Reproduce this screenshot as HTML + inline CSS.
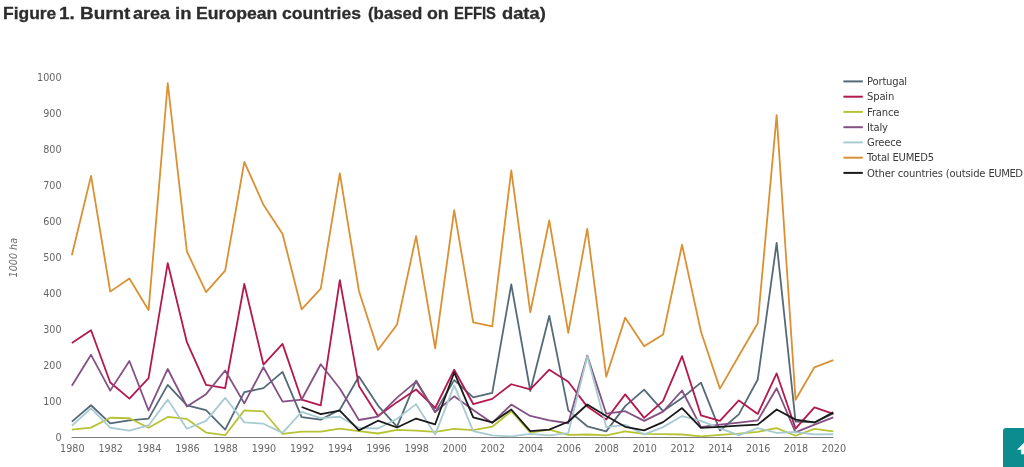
<!DOCTYPE html>
<html><head><meta charset="utf-8"><title>Figure 1</title>
<style>
html,body{margin:0;padding:0;background:#fff;}
body{width:1024px;height:467px;overflow:hidden;position:relative;font-family:"Liberation Sans",sans-serif;}
.title{position:absolute;left:0;top:0;height:30px;width:1024px;font-weight:bold;font-size:17px;color:#2d2d2d;}
.title span{position:absolute;top:3px;line-height:21px;white-space:nowrap;display:inline-block;transform-origin:0 0;-webkit-text-stroke:0.3px #2d2d2d}
.ax{font-family:"DejaVu Sans","Liberation Sans",sans-serif;font-size:9.6px;fill:#666}
.lg{font-family:"DejaVu Sans","Liberation Sans",sans-serif;font-size:10px;fill:#3a3a3a;letter-spacing:-0.2px}
.top{position:absolute;left:1003px;top:428px;width:40px;height:50px;background:#0d8c90;border-top-left-radius:3px}
</style></head><body>
<div class="title"><span style="left:3.05px;transform:scaleX(1.0257)">Figure</span> <span style="left:59.14px;transform:scaleX(1.1101)">1.</span> <span style="left:79.59px;transform:scaleX(1.112)">Burnt</span> <span style="left:133.03px;transform:scaleX(1.0583)">area</span> <span style="left:175.38px;transform:scaleX(1.088)">in</span> <span style="left:195.94px;transform:scaleX(1.0373)">European</span> <span style="left:282.12px;transform:scaleX(1.0327)">countries</span> <span style="left:368.13px;transform:scaleX(0.9897)">(based</span> <span style="left:427.32px;transform:scaleX(1.0462)">on</span> <span style="left:453.86px;transform:scaleX(0.8715)">EFFIS</span> <span style="left:502.0px;transform:scaleX(1.0769)">data)</span></div>
<svg width="1024" height="467" viewBox="0 0 1024 467" style="position:absolute;left:0;top:0">
<defs><clipPath id="lgclip"><rect x="860" y="160" width="163" height="24"/></clipPath></defs>
<path d="M71.65 437.5 L833.32 437.5" stroke="#7a7a7a" stroke-width="1.2" fill="none"/>
<text x="61.5" y="440.8" text-anchor="end" class="ax">0</text>
<text x="61.5" y="404.8" text-anchor="end" class="ax">100</text>
<text x="61.5" y="368.8" text-anchor="end" class="ax">200</text>
<text x="61.5" y="332.8" text-anchor="end" class="ax">300</text>
<text x="61.5" y="296.8" text-anchor="end" class="ax">400</text>
<text x="61.5" y="260.8" text-anchor="end" class="ax">500</text>
<text x="61.5" y="224.8" text-anchor="end" class="ax">600</text>
<text x="61.5" y="188.8" text-anchor="end" class="ax">700</text>
<text x="61.5" y="152.8" text-anchor="end" class="ax">800</text>
<text x="61.5" y="116.8" text-anchor="end" class="ax">900</text>
<text x="61.5" y="80.8" text-anchor="end" class="ax">1000</text>
<text x="72.3" y="452" text-anchor="middle" class="ax">1980</text>
<text x="110.7" y="452" text-anchor="middle" class="ax">1982</text>
<text x="149.1" y="452" text-anchor="middle" class="ax">1984</text>
<text x="187.4" y="452" text-anchor="middle" class="ax">1986</text>
<text x="225.7" y="452" text-anchor="middle" class="ax">1988</text>
<text x="263.9" y="452" text-anchor="middle" class="ax">1990</text>
<text x="302.1" y="452" text-anchor="middle" class="ax">1992</text>
<text x="340.3" y="452" text-anchor="middle" class="ax">1994</text>
<text x="378.5" y="452" text-anchor="middle" class="ax">1996</text>
<text x="416.6" y="452" text-anchor="middle" class="ax">1998</text>
<text x="454.7" y="452" text-anchor="middle" class="ax">2000</text>
<text x="492.8" y="452" text-anchor="middle" class="ax">2002</text>
<text x="530.8" y="452" text-anchor="middle" class="ax">2004</text>
<text x="568.8" y="452" text-anchor="middle" class="ax">2006</text>
<text x="606.7" y="452" text-anchor="middle" class="ax">2008</text>
<text x="644.7" y="452" text-anchor="middle" class="ax">2010</text>
<text x="682.6" y="452" text-anchor="middle" class="ax">2012</text>
<text x="720.4" y="452" text-anchor="middle" class="ax">2014</text>
<text x="758.2" y="452" text-anchor="middle" class="ax">2016</text>
<text x="796.0" y="452" text-anchor="middle" class="ax">2018</text>
<text x="833.8" y="452" text-anchor="middle" class="ax">2020</text>
<text transform="translate(17.2 257.7) rotate(-90)" text-anchor="middle" class="ax" style="font-style:italic">1000 ha</text>
<path d="M71.85 421.65 L91.04 405.27 L110.23 423.34 L129.41 420.39 L148.58 418.63 L167.74 384.93 L186.89 405.38 L206.04 410.13 L225.18 429.54 L244.31 392.17 L263.43 388.17 L282.54 371.90 L301.65 417.08 L320.74 419.60 L339.83 409.77 L358.91 376.54 L377.99 405.60 L397.05 426.62 L416.11 380.58 L435.16 412.18 L454.20 380.14 L473.23 397.32 L492.25 392.82 L511.27 284.35 L530.28 390.98 L549.28 315.81 L568.27 410.42 L587.26 426.26 L606.23 431.41 L625.20 406.14 L644.16 389.68 L663.11 411.03 L682.06 397.93 L700.99 382.59 L719.92 430.44 L738.84 414.42 L757.75 379.46 L776.65 242.98 L795.55 421.54 L814.44 422.44 L833.32 413.41" stroke="#546a79" stroke-width="1.8" fill="none" stroke-linejoin="round" stroke-linecap="butt"/>
<path d="M71.85 342.92 L91.04 330.21 L110.23 382.56 L129.41 398.68 L148.58 378.16 L167.74 263.18 L186.89 342.24 L206.04 384.79 L225.18 388.03 L244.31 283.99 L263.43 364.52 L282.54 343.89 L301.65 399.69 L320.74 405.45 L339.83 280.06 L358.91 385.94 L377.99 416.07 L397.05 402.14 L416.11 389.50 L435.16 408.01 L454.20 369.70 L473.23 404.01 L492.25 398.90 L511.27 384.25 L530.28 389.29 L549.28 369.67 L568.27 381.69 L587.26 406.60 L606.23 419.49 L625.20 394.36 L644.16 417.87 L663.11 400.81 L682.06 356.20 L700.99 415.39 L719.92 420.79 L738.84 400.45 L757.75 413.91 L776.65 373.45 L795.55 428.53 L814.44 407.36 L833.32 413.88" stroke="#b3184f" stroke-width="1.8" fill="none" stroke-linejoin="round" stroke-linecap="butt"/>
<path d="M71.85 429.61 L91.04 427.63 L110.23 417.76 L129.41 418.27 L148.58 427.81 L167.74 416.94 L186.89 418.92 L206.04 432.52 L225.18 435.19 L244.31 410.38 L263.43 411.46 L282.54 433.96 L301.65 431.62 L320.74 431.59 L339.83 428.60 L358.91 431.08 L377.99 433.50 L397.05 429.82 L416.11 430.65 L435.16 431.88 L454.20 428.92 L473.23 430.18 L492.25 426.73 L511.27 411.21 L530.28 432.67 L549.28 429.64 L568.27 434.79 L587.26 434.50 L606.23 435.44 L625.20 431.48 L644.16 433.89 L663.11 434.22 L682.06 434.50 L700.99 436.30 L719.92 434.90 L738.84 433.57 L757.75 431.80 L776.65 428.10 L795.55 435.76 L814.44 428.96 L833.32 431.48" stroke="#b7c235" stroke-width="1.8" fill="none" stroke-linejoin="round" stroke-linecap="butt"/>
<path d="M71.85 385.80 L91.04 354.84 L110.23 390.62 L129.41 361.03 L148.58 410.49 L167.74 368.98 L186.89 406.50 L206.04 394.15 L225.18 370.50 L244.31 403.33 L263.43 367.29 L282.54 401.64 L301.65 399.55 L320.74 364.27 L339.83 388.53 L358.91 420.00 L377.99 416.72 L397.05 397.57 L416.11 381.58 L435.16 412.00 L454.20 396.34 L473.23 410.10 L492.25 422.91 L511.27 404.55 L530.28 415.93 L549.28 420.46 L568.27 423.24 L587.26 355.63 L606.23 413.73 L625.20 411.18 L644.16 420.86 L663.11 411.68 L682.06 390.51 L700.99 427.12 L719.92 424.60 L738.84 422.66 L757.75 420.36 L776.65 388.24 L795.55 432.34 L814.44 424.64 L833.32 417.44" stroke="#855084" stroke-width="1.8" fill="none" stroke-linejoin="round" stroke-linecap="butt"/>
<path d="M71.85 425.72 L91.04 408.30 L110.23 427.74 L129.41 430.54 L148.58 425.47 L167.74 399.62 L186.89 428.78 L206.04 420.93 L225.18 397.82 L244.31 422.34 L263.43 423.70 L282.54 432.92 L301.65 411.90 L320.74 418.16 L339.83 416.76 L358.91 427.81 L377.99 428.49 L397.05 418.74 L416.11 404.16 L435.16 434.61 L454.20 385.40 L473.23 431.05 L492.25 435.44 L511.27 436.34 L530.28 433.89 L549.28 435.30 L568.27 433.03 L587.26 356.35 L606.23 427.09 L625.20 424.89 L644.16 434.36 L663.11 427.12 L682.06 416.04 L700.99 420.79 L719.92 428.31 L738.84 435.04 L757.75 428.06 L776.65 432.78 L795.55 432.02 L814.44 434.29 L833.32 434.25" stroke="#a8cbd1" stroke-width="1.8" fill="none" stroke-linejoin="round" stroke-linecap="butt"/>
<path d="M71.85 255.30 L91.04 175.84 L110.23 291.62 L129.41 278.52 L148.58 310.16 L167.74 83.25 L186.89 251.41 L206.04 292.12 L225.18 270.67 L244.31 161.80 L263.43 204.75 L282.54 233.91 L301.65 309.44 L320.74 288.67 L339.83 173.32 L358.91 290.97 L377.99 349.98 L397.05 324.49 L416.11 236.07 L435.16 348.28 L454.20 210.12 L473.23 322.26 L492.25 326.40 L511.27 170.30 L530.28 312.36 L549.28 220.48 L568.27 332.77 L587.26 228.94 L606.23 376.76 L625.20 317.65 L644.16 346.27 L663.11 334.46 L682.06 244.78 L700.99 331.80 L719.92 388.64 L738.84 355.74 L757.75 323.19 L776.65 115.15 L795.55 399.80 L814.44 367.29 L833.32 360.06" stroke="#da9033" stroke-width="1.8" fill="none" stroke-linejoin="round" stroke-linecap="butt"/>
<path d="M301.65 407.00 L320.74 414.20 L339.83 410.60 L358.91 430.40 L377.99 420.68 L397.05 427.52 L416.11 418.52 L435.16 424.28 L454.20 372.44 L473.23 417.44 L492.25 422.48 L511.27 409.52 L530.28 431.12 L549.28 429.68 L568.27 421.76 L587.26 404.48 L606.23 416.00 L625.20 426.80 L644.16 430.40 L663.11 422.12 L682.06 408.08 L700.99 427.88 L719.92 426.80 L738.84 425.72 L757.75 424.64 L776.65 409.52 L795.55 419.60 L814.44 422.48 L833.32 412.40" stroke="#1a1a1a" stroke-width="1.8" fill="none" stroke-linejoin="round" stroke-linecap="butt"/>
<path d="M843.4 81.4 L862.8 81.4" stroke="#546a79" stroke-width="2" fill="none"/>
<text x="867.1" y="85.1" class="lg">Portugal</text>
<path d="M843.4 96.7 L862.8 96.7" stroke="#b3184f" stroke-width="2" fill="none"/>
<text x="867.1" y="100.4" class="lg">Spain</text>
<path d="M843.4 111.9 L862.8 111.9" stroke="#b7c235" stroke-width="2" fill="none"/>
<text x="867.1" y="115.6" class="lg">France</text>
<path d="M843.4 127.2 L862.8 127.2" stroke="#855084" stroke-width="2" fill="none"/>
<text x="867.1" y="130.8" class="lg">Italy</text>
<path d="M843.4 142.4 L862.8 142.4" stroke="#a8cbd1" stroke-width="2" fill="none"/>
<text x="867.1" y="146.1" class="lg">Greece</text>
<path d="M843.4 157.7 L862.8 157.7" stroke="#da9033" stroke-width="2" fill="none"/>
<text x="867.1" y="161.3" class="lg">Total EUMED5</text>
<path d="M843.4 172.9 L862.8 172.9" stroke="#1a1a1a" stroke-width="2" fill="none"/>
<text x="867.1" y="176.6" class="lg" clip-path="url(#lgclip)" style="letter-spacing:-0.155px">Other countries (outside <tspan style="letter-spacing:-0.42px">EUMED5)</tspan></text>
</svg>
<div class="top"><svg width="40" height="40" viewBox="1003 428 40 40" style="position:absolute;left:0;top:0"><path d="M1017.6 449.4 L1026 441 L1034.4 449.4 L1030.6 449.4 L1030.6 454 L1021.4 454 L1021.4 449.4 Z" fill="#f4ffff" stroke="#f4ffff" stroke-width="0.6" stroke-linejoin="round"/></svg></div>
</body></html>
